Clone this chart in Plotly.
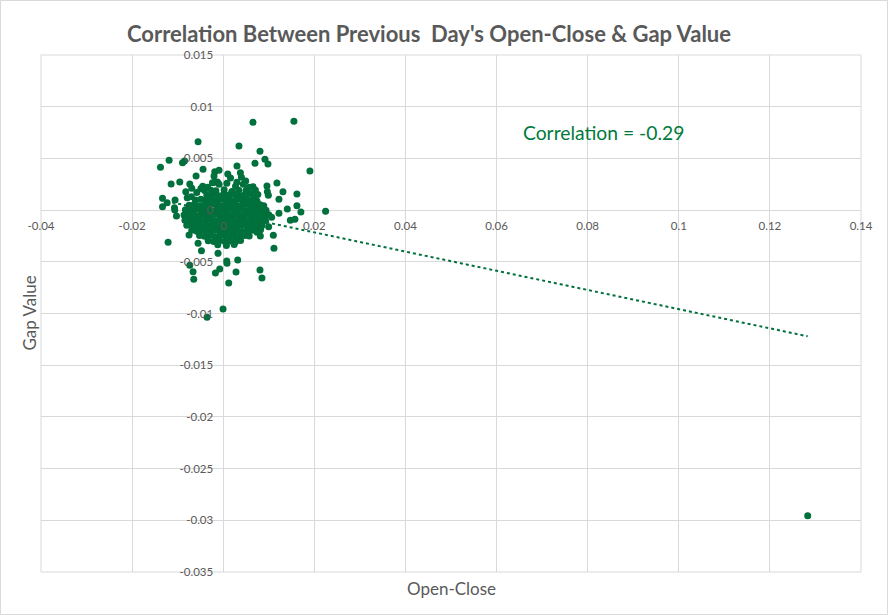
import plotly.graph_objects as go

# ---------------- data ----------------
# scattered points outside the dense core: (Open-Close, Gap Value)
outer_open_close = [
    -0.00552, 0.00346, -0.01188, -0.01377, -0.00894, -0.00850, -0.00443, 0.00302,
    -0.00186, -0.00092, 0.00377, 0.00399, -0.00596, -0.00202, 0.00493, -0.01144,
    -0.00954, -0.00734, -0.00690, -0.00237, -0.00127, -0.00822, -0.01333, -0.01232,
    -0.01057, -0.01333, -0.01070, 0.00653, 0.01552, 0.00807, 0.00916, 0.00982,
    0.00697, 0.01903, 0.00653, 0.00706, 0.00960, 0.01179, 0.01311, 0.01618,
    0.01223, 0.00969, 0.00991, 0.01407, 0.01618, 0.02247, 0.01705, 0.01473,
    0.01574, 0.01223, 0.01063, 0.00997, 0.01100, 0.01114, 0.00741, 0.00815,
    0.00537, 0.00807, 0.00850, 0.00318, -0.01063, -0.01026, -0.01210, -0.00750,
    -0.00552, -0.00478, -0.00114, -0.00734, -0.00662, -0.00647, 0.00077, 0.00083,
    -0.00077, -0.00171, 0.00281, 0.00121, -0.00004, -0.00355, 0.12830,
    -0.00190, -0.00090, 0.00080, 0.00160, 0.00270, -0.00340, 0.00440, -0.00490,
    0.00570, 0.00100, 0.00760, -0.00790, 0.00820, -0.00410,
    -0.00450, -0.00580, 0.00600, 0.00680, -0.00700, 0.00300, -0.00260, 0.00500,
]
outer_gap_value = [
    0.00661, 0.00620, 0.00482, 0.00414, 0.00458, 0.00475, 0.00395, 0.00426,
    0.00371, 0.00385, 0.00362, 0.00317, 0.00330, 0.00330, 0.00281, 0.00252,
    0.00272, 0.00252, 0.00211, 0.00265, 0.00272, 0.00178, 0.00114, 0.00072,
    0.00098, 0.00033, 0.00023, 0.00849, 0.00859, 0.00569, 0.00491, 0.00446,
    0.00453, 0.00378, 0.00226, 0.00194, 0.00233, 0.00262, 0.00178, 0.00156,
    0.00104, 0.00178, 0.00143, 0.00011, 0.00043, -0.00010, -0.00018, -0.00099,
    -0.00089, -0.00031, -0.00070, -0.00161, -0.00244, -0.00369, -0.00215, -0.00250,
    -0.00215, -0.00579, -0.00657, -0.00483, 0.00000, -0.00057, -0.00311, -0.00241,
    -0.00321, -0.00393, -0.00418, -0.00534, -0.00596, -0.00669, -0.00492, -0.00514,
    -0.00570, -0.00608, -0.00599, -0.00705, -0.00956, -0.01037, -0.02955,
    0.00270, 0.00250, 0.00260, 0.00310, 0.00230, 0.00220, 0.00250, 0.00210,
    0.00220, 0.00350, 0.00150, 0.00120, -0.00190, 0.00190,
    0.00230, 0.00170, 0.00160, 0.00130, 0.00130, 0.00270, 0.00190, 0.00190,
]

# dense core of the cloud around the origin
core_open_close = [
    -0.0016, 0.0002, 0.0019, 0.0034,
    -0.0036, -0.0023, -0.0011, 0.0001, 0.0013, 0.0025, 0.0036, 0.0047,
    -0.0061, -0.0049, -0.0038, -0.0026, -0.0014, -0.0003, 0.0008, 0.0020, 0.0031, 0.0042, 0.0054, 0.0065, 0.0074,
    -0.0075, -0.0064, -0.0052, -0.0041, -0.0030, -0.0018, -0.0007, 0.0004, 0.0015, 0.0026, 0.0037, 0.0048, 0.0059, 0.0070, 0.0081, 0.0089,
    -0.0083, -0.0072, -0.0061, -0.0049, -0.0038, -0.0027, -0.0016, -0.0005, 0.0006, 0.0017, 0.0028, 0.0039, 0.0050, 0.0061, 0.0072, 0.0083, 0.0094,
    -0.0086, -0.0075, -0.0064, -0.0052, -0.0041, -0.0030, -0.0019, -0.0008, 0.0003, 0.0014, 0.0025, 0.0036, 0.0047, 0.0058, 0.0069, 0.0080, 0.0091, 0.0100,
    -0.0084, -0.0073, -0.0062, -0.0050, -0.0039, -0.0028, -0.0017, -0.0006, 0.0005, 0.0016, 0.0027, 0.0038, 0.0049, 0.0060, 0.0071, 0.0082, 0.0093,
    -0.0080, -0.0069, -0.0058, -0.0047, -0.0036, -0.0025, -0.0014, -0.0003, 0.0008, 0.0019, 0.0030, 0.0041, 0.0052, 0.0063, 0.0074, 0.0085,
    -0.0069, -0.0058, -0.0047, -0.0036, -0.0025, -0.0014, -0.0003, 0.0008, 0.0019, 0.0030, 0.0041, 0.0052, 0.0063, 0.0073,
    -0.0052, -0.0041, -0.0030, -0.0019, -0.0008, 0.0003, 0.0014, 0.0025, 0.0036, 0.0047, 0.0057,
    -0.0033, -0.0021, -0.0009, 0.0003, 0.0015, 0.0027, 0.0038,
    -0.0012, 0.0007, 0.0024,
]
core_gap_value = [
    0.00186, 0.00197, 0.00181, 0.00192,
    0.00143, 0.00152, 0.00139, 0.00155, 0.00146, 0.00151, 0.00138, 0.00149,
    0.00097, 0.00106, 0.00093, 0.00102, 0.00095, 0.00108, 0.00099, 0.00091, 0.00104, 0.00097, 0.00102, 0.00094, 0.00088,
    0.00046, 0.00055, 0.00043, 0.00052, 0.00048, 0.00057, 0.00044, 0.00051, 0.00047, 0.00055, 0.00042, 0.00053, 0.00049, 0.00045, 0.00052, 0.00041,
    0.00004, -0.00005, 0.00006, -0.00002, 0.00003, -0.00006, 0.00002, 0.00007, -0.00004, 0.00005, -0.00003, 0.00006, -0.00005, 0.00002, -0.00006, 0.00004, -0.00002,
    -0.00047, -0.00054, -0.00044, -0.00052, -0.00046, -0.00056, -0.00043, -0.00051, -0.00048, -0.00055, -0.00045, -0.00053, -0.00049, -0.00042, -0.00055, -0.00047, -0.00052, -0.00044,
    -0.00097, -0.00104, -0.00095, -0.00106, -0.00099, -0.00093, -0.00105, -0.00098, -0.00102, -0.00094, -0.00107, -0.00096, -0.00101, -0.00093, -0.00105, -0.00099, -0.00103,
    -0.00147, -0.00153, -0.00144, -0.00156, -0.00149, -0.00142, -0.00155, -0.00148, -0.00152, -0.00145, -0.00157, -0.00146, -0.00151, -0.00143, -0.00154, -0.00148,
    -0.00196, -0.00204, -0.00193, -0.00205, -0.00198, -0.00192, -0.00206, -0.00197, -0.00203, -0.00194, -0.00207, -0.00199, -0.00195, -0.00202,
    -0.00246, -0.00253, -0.00244, -0.00256, -0.00249, -0.00243, -0.00255, -0.00247, -0.00252, -0.00245, -0.00251,
    -0.00297, -0.00304, -0.00296, -0.00302, -0.00298, -0.00305, -0.00293,
    -0.00336, -0.00342, -0.00333,
]

# linear trendline as drawn in the reference
trend_slope = -0.0928
trend_intercept = -0.0003
correlation_text = "Correlation = -0.29"

x_tick_vals = [-0.04, -0.02, 0, 0.02, 0.04, 0.06, 0.08, 0.1, 0.12, 0.14]
x_tick_text = ["-0.04", "-0.02", "0", "0.02", "0.04", "0.06", "0.08", "0.1", "0.12", "0.14"]
y_tick_vals = [0.015, 0.01, 0.005, 0, -0.005, -0.01, -0.015, -0.02, -0.025, -0.03, -0.035]
y_tick_text = ["0.015", "0.01", "0.005", "0", "-0.005", "-0.01", "-0.015", "-0.02", "-0.025", "-0.03", "-0.035"]

# ---------------- figure ----------------
W, H = 888, 615
ML, MR, MT, MB = 41, 27, 55, 43
PW, PH = W - ML - MR, H - MT - MB
X_RANGE = [-0.04, 0.14]
Y_RANGE = [-0.035, 0.015]

GREEN = "#00703c"
GRID = "#d9d9d9"
TXT = "#595959"
FONT = "Lato, 'Open Sans', sans-serif"

all_x = core_open_close + outer_open_close
all_y = core_gap_value + outer_gap_value

fig = go.Figure()
fig.add_trace(go.Scatter(
    x=all_x, y=all_y, mode="markers",
    marker=dict(color=GREEN, size=7, line=dict(width=0)),
    showlegend=False, hoverinfo="skip",
))

tx = [min(all_x), max(all_x)]
ty = [trend_slope * v + trend_intercept for v in tx]
fig.add_trace(go.Scatter(
    x=tx, y=ty, mode="lines",
    line=dict(color=GREEN, width=2, dash="dot"),
    showlegend=False, hoverinfo="skip",
))

x_zero_frac = (0 - X_RANGE[0]) / (X_RANGE[1] - X_RANGE[0])
y_zero_frac = (0 - Y_RANGE[0]) / (Y_RANGE[1] - Y_RANGE[0])

fig.update_layout(
    width=W, height=H,
    margin=dict(l=ML, r=MR, t=MT, b=MB, pad=0),
    paper_bgcolor="white", plot_bgcolor="white",
    font=dict(family=FONT, color=TXT),
    title=dict(
        text="<b>Correlation Between Previous&nbsp; Day's Open-Close &amp; Gap Value</b>",
        x=(429 - ML) / PW, xref="paper", xanchor="center",
        y=1 - 34 / H, yref="container", yanchor="middle",
        font=dict(family=FONT, size=22, color=TXT),
    ),
    xaxis=dict(
        range=X_RANGE, tickvals=x_tick_vals, ticktext=x_tick_text,
        showgrid=True, gridcolor=GRID, gridwidth=1, zeroline=False,
        showline=False, anchor="free", position=y_zero_frac,
        ticks="", ticklabelstandoff=7,
        tickfont=dict(family=FONT, size=11.5, color=TXT),
    ),
    yaxis=dict(
        range=Y_RANGE, tickvals=y_tick_vals, ticktext=y_tick_text,
        showgrid=True, gridcolor=GRID, gridwidth=1, zeroline=False,
        showline=False, anchor="free", position=x_zero_frac,
        ticks="", ticklabelstandoff=10,
        tickfont=dict(family=FONT, size=11.5, color=TXT),
    ),
    shapes=[
        dict(type="rect", xref="paper", yref="paper", x0=0, x1=1, y0=0, y1=1,
             line=dict(color=GRID, width=1), layer="below"),
        dict(type="rect", xref="paper", yref="paper",
             x0=(0.5 - ML) / PW, x1=(W - 0.5 - ML) / PW,
             y0=(PH + MT - (H - 0.5)) / PH, y1=(PH + MT - 0.5) / PH,
             line=dict(color=GRID, width=1), layer="below"),
    ],
    annotations=[
        dict(text=correlation_text, xref="paper", yref="paper",
             x=(603 - ML) / PW, y=(MT + PH - 132) / PH,
             xanchor="center", yanchor="middle", showarrow=False,
             font=dict(family=FONT, size=19.3, color="#007a3d")),
        dict(text="Open-Close", xref="paper", yref="paper",
             x=(451 - ML) / PW, y=(MT + PH - 588) / PH,
             xanchor="center", yanchor="middle", showarrow=False,
             font=dict(family=FONT, size=17, color=TXT)),
        dict(text="Gap Value", xref="paper", yref="paper",
             x=(29 - ML) / PW, y=0.5, textangle=-90,
             xanchor="center", yanchor="middle", showarrow=False,
             font=dict(family=FONT, size=17, color=TXT)),
    ],
)

fig.write_html(
    "out.html",
    config={"displayModeBar": False},
    post_script="document.body.style.margin='0';document.body.style.overflow='hidden';",
)
